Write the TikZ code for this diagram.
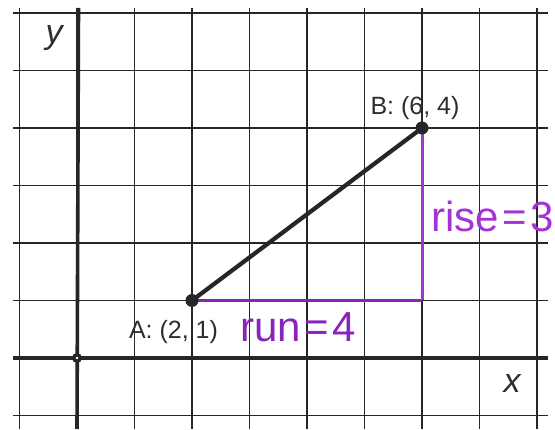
\documentclass[tikz,border=0pt]{standalone}
\usepackage{fontspec}
\setmainfont{Liberation Sans}
\newfontfamily\handfont[WordSpace=0.3]{Liberation Sans}
\definecolor{gridc}{HTML}{262626}
\definecolor{runc}{HTML}{8A22BC}
\definecolor{risec}{HTML}{A433D4}
\definecolor{textc}{HTML}{2E2E2E}
\tikzset{
  gridline/.style={draw=gridc, line width=1.9pt},
  axisline/.style={draw=gridc, line width=3.6pt},
  segline/.style={draw=gridc, line width=4.2pt},
  runline/.style={draw=runc, line width=3.8pt},
  riseline/.style={draw=risec, line width=3pt},
  ptdot/.style={circle, fill=gridc, inner sep=0pt, minimum size=13pt},
  orgdot/.style={circle, fill=gridc, inner sep=0pt, minimum size=10pt},
  ptlabel/.style={text=textc, inner sep=0pt, font=\fontsize{25}{25}\selectfont},
  axlabel/.style={text=textc, inner sep=0pt, font=\fontsize{34}{34}\selectfont\itshape},
  runtext/.style={text=runc, inner sep=0pt, font=\handfont\fontsize{42}{42}\selectfont},
  risetext/.style={text=risec, inner sep=0pt, font=\handfont\fontsize{42}{42}\selectfont}
}
\begin{document}
\begin{tikzpicture}[x=1pt,y=1pt]
\useasboundingbox (0,0) rectangle (555,429);
\fill[white] (0,0) rectangle (555,429);
% grid
\foreach \i in {-1,...,8} { \draw[gridline] ({77+\i*57.5},0) -- ({77+\i*57.5},421); }
\foreach \j in {-1,...,6} { \draw[gridline] (13,{71+\j*57.5}) -- (548,{71+\j*57.5}); }
% axes
\draw[axisline] (77,0) -- (78.5,421);
\draw[axisline] (13,71) -- (548,71);
% points
\coordinate (A) at (192,128.5);
\coordinate (B) at (422,301);
\coordinate (C) at (422,128.5);
\draw[runline] (A) -- (C);
\draw[riseline] (B) -- (C);
\draw[segline] (A) -- (B);
\node[ptdot] (Adot) at (A) {};
\node[ptdot] (Bdot) at (B) {};
\node[orgdot] (O) at (77,71) {};
\fill[white] (O) circle (1.4pt);
% labels
\node[axlabel] (ylab) at (54,391) {y};
\node[axlabel] (xlab) at (512,45) {x};
\node[ptlabel] (Alab) at (173.5,97) {A: (2, 1)};
\node[ptlabel] (Blab) at (415,320.5) {B: (6, 4)};
\node[runtext, anchor=base west] (runlab) at (240,87) {run = 4};
\node[risetext, anchor=base west] (riselab) at (431,197) {rise = 3};
\end{tikzpicture}
\end{document}
